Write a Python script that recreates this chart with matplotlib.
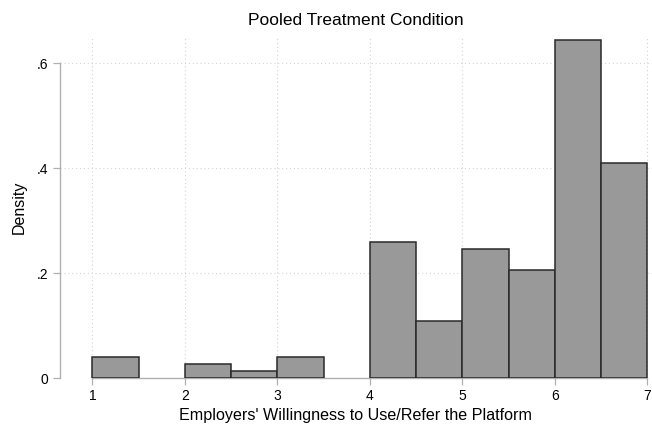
import matplotlib
matplotlib.use("Agg")
import matplotlib.pyplot as plt
import numpy as np

# Histogram bins (width 0.5) and density per bin
bin_edges = [1.0, 1.5, 2.0, 2.5, 3.0, 3.5, 4.0, 4.5, 5.0, 5.5, 6.0, 6.5, 7.0]
densities = [0.0411, 0.0, 0.0274, 0.0137, 0.0411, 0.0, 0.2603, 0.1096, 0.2466, 0.2055, 0.6438, 0.4110]
x_ticks = [1, 2, 3, 4, 5, 6, 7]
y_ticks = [0, 0.2, 0.4, 0.6]
y_tick_labels = ["0", ".2", ".4", ".6"]

title = "Pooled Treatment Condition"
x_label = "Employers' Willingness to Use/Refer the Platform"
y_label = "Density"

plt.rcParams["font.family"] = ["Liberation Sans", "DejaVu Sans"]

fig = plt.figure(figsize=(6.52, 4.30), dpi=100)
ax = fig.add_axes([0.0913, 0.1202, 0.9087, 0.7937])

edges = np.array(bin_edges)
lefts = edges[:-1]
widths = np.diff(edges)
dens = np.array(densities)
mask = dens > 0
ax.bar(lefts[mask], dens[mask], width=widths[mask], align="edge",
       color="#999999", edgecolor="#2a2a2a", linewidth=1.1, zorder=3)

ax.set_xlim(0.645, 7.05)
ax.set_ylim(0, 0.65)

ax.set_xticks(x_ticks)
ax.set_yticks(y_ticks)
ax.set_yticklabels(y_tick_labels)

grid_kw = dict(color="#d4d4d4", linestyle=(0, (1, 2.5)), linewidth=0.8, zorder=1)
ax.grid(True, **grid_kw)

for side in ("top", "right"):
    ax.spines[side].set_visible(False)
for side in ("left", "bottom"):
    ax.spines[side].set_color("#b0b0b0")
    ax.spines[side].set_linewidth(1.0)
ax.spines["left"].set_bounds(0, 0.6)
ax.spines["bottom"].set_bounds(1, 7)

ax.tick_params(axis="both", direction="out", length=5, width=0.9,
               color="#b0b0b0", labelsize=10, labelcolor="black")
ax.tick_params(axis="y", pad=3)
ax.tick_params(axis="x", pad=3)

ax.set_title(title, fontsize=12.5, pad=9)
ax.set_xlabel(x_label, fontsize=11.6, labelpad=3)
ax.set_ylabel(y_label, fontsize=11.5, labelpad=7)

fig.savefig("out.png", dpi=100, facecolor="white")
